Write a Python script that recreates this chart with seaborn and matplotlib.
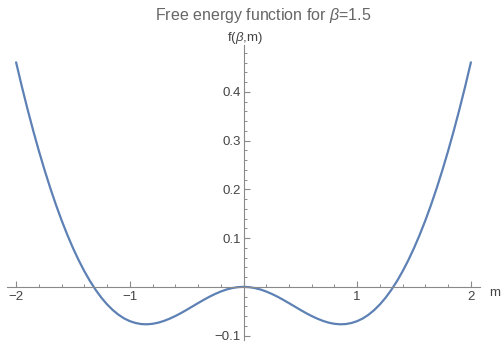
import numpy as np
import pandas as pd
import matplotlib
matplotlib.use("Agg")
import matplotlib.pyplot as plt
import seaborn as sns
from matplotlib.ticker import MultipleLocator, FuncFormatter

# values, m from -2 to 2 in steps of 0.05
m_vals = [-2.0, -1.95, -1.9, -1.85, -1.8, -1.75, -1.7, -1.65, -1.6, -1.55,
          -1.5, -1.45, -1.4, -1.35, -1.3, -1.25, -1.2, -1.15, -1.1, -1.05,
          -1.0, -0.95, -0.9, -0.85, -0.8, -0.75, -0.7, -0.65, -0.6, -0.55,
          -0.5, -0.45, -0.4, -0.35, -0.3, -0.25, -0.2, -0.15, -0.1, -0.05,
          0.0,
          0.05, 0.1, 0.15, 0.2, 0.25, 0.3, 0.35, 0.4, 0.45, 0.5,
          0.55, 0.6, 0.65, 0.7, 0.75, 0.8, 0.85, 0.9, 0.95, 1.0,
          1.05, 1.1, 1.15, 1.2, 1.25, 1.3, 1.35, 1.4, 1.45, 1.5,
          1.55, 1.6, 1.65, 1.7, 1.75, 1.8, 1.85, 1.9, 1.95, 2.0]
f_vals = [0.4605, 0.4114, 0.3649, 0.3208, 0.2791, 0.2399, 0.2031, 0.1686, 0.1366, 0.1070,
          0.0797, 0.0548, 0.0322, 0.0118, -0.0063, -0.0222, -0.0359, -0.0475, -0.0571, -0.0647,
          -0.0703, -0.0741, -0.0763, -0.0768, -0.0758, -0.0735, -0.0699, -0.0653, -0.0599, -0.0538,
          -0.0472, -0.0403, -0.0334, -0.0267, -0.0203, -0.0146, -0.0096, -0.0055, -0.0025, -0.0006,
          0.0,
          -0.0006, -0.0025, -0.0055, -0.0096, -0.0146, -0.0203, -0.0267, -0.0334, -0.0403, -0.0472,
          -0.0538, -0.0599, -0.0653, -0.0699, -0.0735, -0.0758, -0.0768, -0.0763, -0.0741, -0.0703,
          -0.0647, -0.0571, -0.0475, -0.0359, -0.0222, -0.0063, 0.0118, 0.0322, 0.0548, 0.0797,
          0.1070, 0.1366, 0.1686, 0.2031, 0.2399, 0.2791, 0.3208, 0.3649, 0.4114, 0.4605]

title = "Free energy function for $\\beta$=1.5"
ylab = "f($\\beta$,m)"
xlab = "m"

df = pd.DataFrame({"m": m_vals, "f": f_vals})

sns.set_style("white")
plt.rcParams["font.family"] = ["Liberation Sans", "DejaVu Sans"]
plt.rcParams["mathtext.fontset"] = "custom"
plt.rcParams["mathtext.rm"] = "Liberation Sans"
plt.rcParams["mathtext.it"] = "Liberation Sans:italic"

fig = plt.figure(figsize=(5.03, 3.47), dpi=100)
ax = fig.add_axes([7/503, 1 - 340/347, (480 - 7)/503, (340 - 45)/347])

sns.lineplot(data=df, x="m", y="f", ax=ax, color="#5E81B5", linewidth=1.6)

ax.set_xlim(-2.08, 2.08)
ax.set_ylim(-0.109, 0.496)
ax.set_xlabel("")
ax.set_ylabel("")

axis_col = "#8a8a8a"
for s in ["top", "right"]:
    ax.spines[s].set_visible(False)
ax.spines["left"].set_position(("data", 0))
ax.spines["bottom"].set_position(("data", 0))
ax.spines["left"].set_color(axis_col)
ax.spines["bottom"].set_color(axis_col)
ax.spines["left"].set_linewidth(0.8)
ax.spines["bottom"].set_linewidth(0.8)

ax.xaxis.set_major_locator(MultipleLocator(1))
ax.xaxis.set_minor_locator(MultipleLocator(0.2))
ax.yaxis.set_major_locator(MultipleLocator(0.1))
ax.yaxis.set_minor_locator(MultipleLocator(0.02))

def fmt_x(v, pos):
    if abs(v) < 1e-9:
        return ""
    return ("\u2212%d" % abs(round(v))) if v < 0 else "%d" % round(v)

def fmt_y(v, pos):
    if abs(v) < 1e-9:
        return ""
    return ("\u2212%.1f" % abs(v)) if v < 0 else "%.1f" % v

ax.xaxis.set_major_formatter(FuncFormatter(fmt_x))
ax.yaxis.set_major_formatter(FuncFormatter(fmt_y))

ax.tick_params(axis="both", which="both", bottom=True, left=True)
ax.tick_params(axis="both", which="major", direction="in", length=4, width=0.8,
               color=axis_col, labelcolor="#444444", labelsize=9.5, pad=3)
ax.tick_params(axis="both", which="minor", direction="in", length=2.2, width=0.7,
               color=axis_col)
ax.tick_params(axis="y", which="major", pad=2)

fig.text(263/503, 1 - 20/347, title, ha="center", va="baseline",
         color="#666666", fontsize=11.5)
fig.text(245/503, 1 - 41/347, ylab, ha="center", va="baseline",
         color="#444444", fontsize=9.5)
fig.text(495/503, 1 - 296/347, xlab, ha="center", va="baseline",
         color="#444444", fontsize=9.5)

fig.savefig("out.png", dpi=100)
